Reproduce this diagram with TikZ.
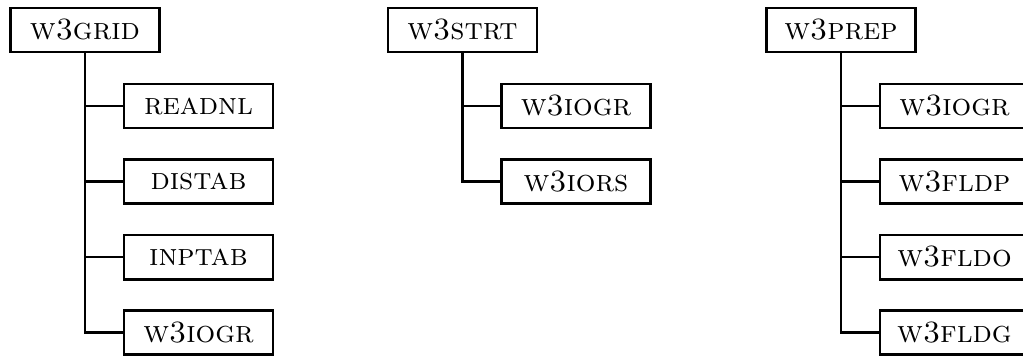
\documentclass[tikz,border=0pt]{standalone}
\begin{document}
\begin{tikzpicture}[x=.43pt,y=-.43pt]
      \tikzstyle{unit} = [draw,line width=1.2pt,minimum width=64pt,minimum height=19pt,inner sep=0pt,font=\fontsize{13.3}{16}\selectfont\scshape];
      \tikzstyle{link} = [line width=.9pt];
      \useasboundingbox (0,0) rectangle (1023,356);
      % w3grid
      \node [unit] (grid) at (85,30) {w3grid};
      \node [unit] (grid1) at (198.5,106) {readnl};
      \node [unit] (grid2) at (198.5,181.5) {distab};
      \node [unit] (grid3) at (198.5,257) {inptab};
      \node [unit] (grid4) at (198.5,332.5) {w3iogr};
      \draw [link] (grid.south) |- (grid4.west);
      \foreach \n in {1,2,3}
        \draw [link] (grid.south |- grid\n.west) -- (grid\n.west);
      % w3strt
      \node [unit] (strt) at (462.5,30) {w3strt};
      \node [unit] (strt1) at (576,106) {w3iogr};
      \node [unit] (strt2) at (576,181.5) {w3iors};
      \draw [link] (strt.south) |- (strt2.west);
      \draw [link] (strt.south |- strt1.west) -- (strt1.west);
      % w3prep
      \node [unit] (prep) at (841,30) {w3prep};
      \node [unit] (prep1) at (954.5,106) {w3iogr};
      \node [unit] (prep2) at (954.5,181.5) {w3fldp};
      \node [unit] (prep3) at (954.5,257) {w3fldo};
      \node [unit] (prep4) at (954.5,332.5) {w3fldg};
      \draw [link] (prep.south) |- (prep4.west);
      \foreach \n in {1,2,3}
        \draw [link] (prep.south |- prep\n.west) -- (prep\n.west);
    \end{tikzpicture}
\end{document}
